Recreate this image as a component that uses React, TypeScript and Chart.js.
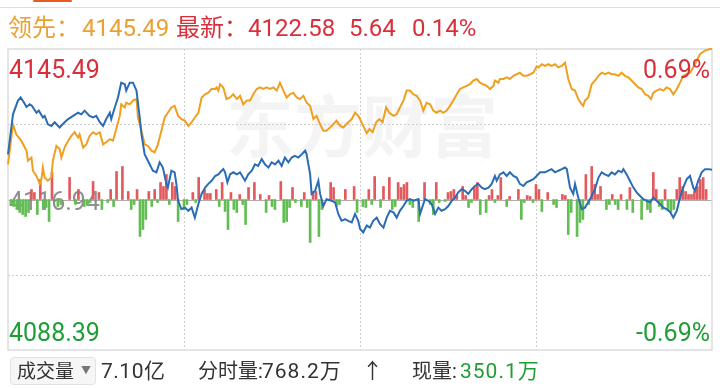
import React, { useEffect, useRef } from "react";
import { Chart, registerables } from "chart.js";

Chart.register(...registerables);

// ---- data ----
const prevClose = 4116.94;
const axisMax = 4145.49;
const axisMin = 4088.39;
const gridMinutes = [60, 120, 180];
const gridValues = [4131.215, 4102.665];

const orangeMinutes = [
  0, 1.7, 2.8, 4.5, 6.3, 6.8, 8.0, 8.5, 9.7, 10.8, 11.4, 11.9, 12.5, 13.6, 14.8, 15.3, 16.5, 17.6, 18.2, 19.3,
  20.5, 21.6, 22.7, 23.9, 24.4, 25.6, 26.7, 27.8, 29.0, 30.1, 31.3, 32.4, 33.5, 34.7, 35.8, 36.9, 38.1, 38.6, 39.8, 40.3,
  41.5, 42.6, 43.8, 44.3, 45.5, 46.6, 47.7, 48.9, 50.0, 51.1, 52.3, 53.4, 54.5, 55.7, 56.8, 58.0, 59.1, 60.3, 61.5, 62.6,
  63.7, 64.9, 66.0, 67.2, 68.3, 69.4, 70.6, 71.1, 71.7, 72.3, 73.4, 74.5, 75.7, 76.8, 78.0, 79.1, 80.2, 81.4, 82.5, 83.6,
  84.8, 85.9, 87.0, 88.2, 89.3, 90.5, 91.6, 92.7, 93.9, 95.0, 96.1, 97.3, 98.4, 99.5, 100.7, 101.8, 103.0, 104.1, 105.2, 106.4,
  107.5, 108.6, 109.8, 110.9, 112.0, 113.2, 114.3, 116.0, 117.2, 118.3, 119.4, 120.0, 121.1, 122.3, 123.2, 124.3, 125.5, 126.6, 127.7, 128.9,
  130.0, 131.4, 132.5, 133.6, 134.8, 135.9, 137.0, 138.2, 139.3, 140.5, 141.6, 142.7, 143.9, 145.0, 146.1, 147.3, 148.4, 149.5, 150.7, 151.8,
  153.0, 154.1, 155.2, 156.4, 157.5, 158.6, 159.8, 160.9, 162.0, 163.2, 164.3, 165.5, 166.0, 167.2, 167.7, 168.9, 170.0, 171.1, 172.3, 173.4,
  174.5, 175.7, 176.8, 178.0, 179.1, 180.2, 180.8, 182.0, 183.1, 184.2, 185.3, 186.5, 187.6, 188.8, 189.9, 191.0, 192.2, 193.3, 194.4, 195.6,
  196.1, 196.7, 197.8, 199.0, 200.1, 201.3, 202.4, 203.5, 204.7, 205.8, 206.9, 208.1, 209.2, 210.3, 211.5, 212.6, 213.8, 214.9, 216.0, 217.2,
  218.3, 219.2, 220.0, 221.1, 222.3, 223.4, 224.5, 225.7, 226.8, 228.0, 229.1, 230.2, 231.4, 232.5, 233.6, 234.8, 235.9, 237.6, 239.3, 240,
];
const orangeValues = [
  4123.6, 4131.2, 4129.3, 4128.1, 4126.2, 4124.3, 4124.9, 4122.4, 4121.4, 4119.9, 4120.8, 4123.0, 4121.1, 4120.5, 4121.1, 4124.3, 4127.1, 4126.5, 4124.9, 4126.8,
  4128.1, 4129.0, 4129.7, 4128.7, 4129.3, 4126.8, 4127.4, 4129.0, 4129.7, 4129.3, 4129.7, 4127.4, 4127.8, 4128.4, 4128.1, 4130.3, 4132.8, 4135.0, 4134.4, 4135.3,
  4135.0, 4135.7, 4136.0, 4132.5, 4130.0, 4127.4, 4127.1, 4126.2, 4125.9, 4127.4, 4130.0, 4132.5, 4133.4, 4134.4, 4134.7, 4132.8, 4132.2, 4131.9, 4130.9, 4131.6,
  4132.5, 4133.4, 4136.3, 4136.9, 4137.2, 4137.9, 4137.9, 4138.2, 4137.6, 4138.8, 4138.2, 4136.0, 4136.3, 4136.9, 4136.0, 4136.6, 4135.0, 4135.7, 4135.7, 4136.9,
  4137.9, 4138.2, 4137.9, 4138.2, 4137.9, 4138.2, 4137.6, 4139.1, 4137.6, 4136.3, 4136.9, 4137.2, 4136.3, 4136.0, 4136.6, 4135.3, 4134.7, 4132.2, 4132.8, 4131.2,
  4130.0, 4130.0, 4130.6, 4131.2, 4131.9, 4130.9, 4130.6, 4131.6, 4132.2, 4133.4, 4132.8, 4132.2, 4130.9, 4129.5, 4130.3, 4129.7, 4131.6, 4132.2, 4131.6, 4134.4,
  4133.4, 4132.8, 4133.1, 4134.4, 4135.7, 4137.6, 4137.6, 4136.9, 4136.6, 4135.7, 4133.8, 4135.3, 4135.0, 4133.8, 4133.4, 4133.8, 4133.4, 4133.8, 4134.7, 4135.7,
  4136.9, 4137.9, 4138.2, 4138.5, 4138.8, 4139.5, 4139.8, 4139.1, 4138.8, 4138.5, 4137.9, 4138.5, 4139.5, 4139.1, 4139.8, 4139.8, 4140.1, 4139.8, 4140.4, 4140.7,
  4141.0, 4140.4, 4140.4, 4140.7, 4141.0, 4142.2, 4142.0, 4142.6, 4142.3, 4142.6, 4142.3, 4142.6, 4142.0, 4142.3, 4142.9, 4139.8, 4137.9, 4137.6, 4136.0, 4135.0,
  4134.7, 4135.7, 4136.3, 4138.8, 4139.5, 4140.4, 4141.0, 4140.7, 4141.0, 4140.7, 4140.7, 4140.4, 4141.0, 4140.4, 4140.1, 4139.5, 4138.8, 4138.2, 4137.9, 4136.9,
  4136.6, 4136.0, 4137.2, 4137.6, 4137.9, 4137.6, 4138.2, 4137.9, 4136.9, 4137.9, 4139.1, 4140.4, 4140.7, 4141.0, 4142.0, 4143.3, 4144.5, 4145.2, 4145.5, 4145.49,
];

const blueMinutes = [
  0, 1.7, 3.4, 4.3, 5.5, 6.3, 7.4, 8.2, 9.7, 10.5, 11.9, 12.5, 13.6, 14.8, 15.9, 17.6, 19.3, 20.5, 22.2, 23.9,
  25.0, 26.1, 27.8, 29.0, 30.1, 31.3, 32.4, 33.5, 34.7, 35.2, 36.4, 37.5, 38.6, 39.8, 40.3, 41.5, 42.6, 43.8, 44.9, 45.5,
  46.6, 47.7, 49.4, 50.6, 51.7, 52.8, 54.0, 54.5, 55.7, 56.8, 57.4, 58.0, 59.1, 60.3, 61.5, 62.6, 63.7, 64.9, 66.0, 67.2,
  68.3, 69.4, 70.6, 71.7, 72.8, 73.4, 74.0, 74.8, 75.7, 76.8, 78.0, 79.1, 80.8, 81.9, 83.1, 84.2, 85.3, 86.5, 87.6, 88.8,
  89.9, 91.0, 92.2, 93.3, 94.4, 95.6, 96.7, 97.8, 99.0, 100.1, 101.3, 101.8, 103.0, 103.5, 104.7, 105.8, 106.4, 107.5, 108.6, 110.3,
  111.5, 112.6, 113.7, 114.9, 116.0, 117.2, 118.3, 119.4, 120.0, 121.1, 122.3, 123.4, 124.5, 125.7, 126.8, 128.0, 129.1, 130.2, 131.4, 132.5,
  133.6, 134.8, 135.9, 137.0, 138.2, 139.9, 140.5, 141.6, 142.2, 143.3, 144.4, 145.6, 146.7, 147.8, 149.0, 150.1, 151.3, 152.4, 153.5, 154.7,
  155.8, 156.9, 158.1, 159.2, 160.3, 161.5, 162.6, 163.8, 164.9, 166.0, 166.6, 167.7, 168.9, 170.0, 171.1, 172.3, 173.4, 174.5, 175.7, 176.8,
  178.0, 179.1, 180.2, 181.4, 183.1, 184.2, 185.3, 186.5, 187.6, 188.8, 189.9, 190.5, 191.6, 192.7, 193.3, 194.4, 195.6, 196.7, 197.8, 199.0,
  200.1, 201.3, 202.4, 203.5, 204.7, 205.8, 206.9, 208.1, 209.2, 209.8, 210.9, 212.0, 213.2, 214.3, 215.5, 216.6, 217.7, 218.9, 220.0, 221.1,
  222.3, 223.4, 224.5, 225.7, 226.8, 228.0, 229.1, 230.2, 231.4, 232.5, 233.6, 234.2, 235.3, 236.5, 237.6, 238.8, 240,
];
const blueValues = [
  4125.5, 4133.1, 4135.7, 4136.3, 4135.3, 4134.5, 4135.0, 4134.7, 4133.4, 4133.8, 4132.5, 4132.8, 4131.2, 4130.9, 4131.6, 4130.6, 4131.6, 4132.2, 4132.8, 4133.4,
  4133.1, 4133.8, 4132.8, 4132.5, 4132.8, 4131.6, 4130.9, 4132.2, 4133.4, 4132.2, 4134.4, 4136.3, 4139.1, 4138.8, 4137.6, 4139.1, 4139.1, 4137.6, 4132.5, 4129.3,
  4125.5, 4124.3, 4122.4, 4122.1, 4124.0, 4123.0, 4119.9, 4119.2, 4122.4, 4122.1, 4119.9, 4116.7, 4115.1, 4115.4, 4114.8, 4115.4, 4113.5, 4116.1, 4118.0, 4119.2,
  4119.9, 4120.5, 4121.4, 4121.7, 4122.4, 4122.7, 4122.1, 4120.2, 4121.7, 4122.1, 4121.7, 4122.1, 4120.5, 4121.7, 4122.4, 4123.6, 4123.3, 4124.6, 4123.6, 4123.0,
  4124.0, 4123.6, 4124.3, 4123.3, 4124.9, 4124.0, 4124.9, 4125.2, 4124.9, 4125.5, 4126.2, 4125.5, 4121.7, 4118.0, 4118.6, 4120.5, 4118.0, 4115.7, 4117.0, 4116.7,
  4116.4, 4114.2, 4112.9, 4113.2, 4112.9, 4112.6, 4114.2, 4112.9, 4111.4, 4110.7, 4112.0, 4111.6, 4112.9, 4113.5, 4112.3, 4111.6, 4113.5, 4114.8, 4114.5, 4113.5,
  4114.8, 4115.7, 4116.7, 4117.0, 4116.7, 4117.0, 4114.2, 4116.1, 4117.0, 4116.7, 4116.1, 4114.2, 4115.4, 4114.8, 4115.1, 4115.7, 4116.7, 4117.3, 4118.3, 4118.9,
  4118.6, 4118.0, 4118.9, 4119.5, 4119.9, 4119.2, 4118.9, 4119.2, 4119.9, 4121.4, 4120.5, 4121.7, 4122.1, 4121.4, 4122.1, 4121.4, 4121.1, 4119.9, 4119.5, 4120.2,
  4120.5, 4120.8, 4121.4, 4122.1, 4122.1, 4122.4, 4122.7, 4122.1, 4122.4, 4122.7, 4123.0, 4122.7, 4119.2, 4118.0, 4119.9, 4117.3, 4115.1, 4115.4, 4116.4, 4117.6,
  4118.9, 4121.1, 4122.1, 4121.7, 4121.4, 4122.1, 4121.7, 4122.4, 4122.1, 4122.7, 4121.7, 4120.5, 4119.2, 4118.3, 4117.6, 4117.0, 4116.7, 4116.4, 4117.3, 4116.7,
  4116.1, 4115.4, 4115.1, 4114.6, 4113.5, 4114.8, 4117.3, 4119.2, 4120.8, 4121.4, 4119.2, 4118.6, 4120.5, 4122.1, 4122.7, 4122.7, 4122.58,
];

const barMinutes = [
  1, 2, 3, 4, 5, 6, 7, 8, 9, 10, 11, 12, 13, 14, 15, 17, 18, 21, 23, 24, 26, 27, 28, 29, 31, 32, 34, 35, 36, 37,
  39, 41, 42, 43, 44, 45, 46, 47, 48, 49, 50, 51, 52, 53, 54, 55, 56, 57, 58, 60,
  61, 63, 64, 65, 67, 68, 69, 71, 72, 73, 74, 75, 76, 77, 78, 79, 80, 81, 82, 84, 86, 88, 89, 90, 91, 93, 94, 95, 96, 97,
  98, 100, 101, 102, 103, 104, 105, 106, 107, 110, 111, 112, 113, 115, 118, 119,
  121, 122, 123, 124, 125, 127, 128, 130, 131, 132, 133, 134, 135, 136, 137, 138, 140, 142, 144, 145, 146, 147, 149, 150,
  151, 152, 153, 155, 156, 157, 158, 159, 160, 161, 163, 164, 165, 166, 167, 168, 170, 171, 174, 175, 176, 177, 178, 179,
  180, 181, 182, 184, 186, 187, 189, 190, 191, 192, 194, 195, 196, 197, 198, 199, 200, 201, 202, 204, 205, 206, 207, 208, 209, 211,
  212, 213, 216, 218, 219, 220, 221, 222, 223, 224, 225, 226, 227, 228, 229, 230, 231, 232, 233, 234, 235, 236, 237, 238,
];
const barValues = [
  -5, -7, -10, -13, -15, -17, -13, 10, 7, -15, 20, -10, -8, -22, 27, -7, -5, 22, -5, 10, -7, -5, -3, 18, 7, -10, -3, 10, -7, 28,
  33, 8, -10, -5, 10, -37, -30, -20, 8, -7, 10, -3, 17, 13, 25, -5, 17, 13, -22, -10,
  -5, 7, -3, 22, 10, 6, 6, 10, -7, 17, -12, -30, 7, -10, -13, 5, -5, -25, 12, 17, 5, -13, 4, -7, -10, 18, -23, -22, -8, 12,
  -3, -7, 7, -8, -43, 8, 8, -37, -10, 17, 12, -7, -5, 10, 13, -13,
  -7, -8, 10, -5, 23, -8, 13, 22, -10, -7, 17, 12, 15, 17, -5, -8, -22, 17, -5, -15, 17, -3, -2, 7,
  8, 10, 4, 13, 4, -8, -3, 12, 17, -15, -13, 4, 10, -3, 4, 22, -7, 3, 10, -20, -3, 4, 3, -3,
  15, 10, -12, 7, -5, -8, 5, 4, -35, -13, -37, -23, -20, 25, -5, 33, 15, 5, 13, -10, -5, 5, -5, -10, 5, -10,
  12, -13, -20, -10, -13, 27, 10, -7, -10, 10, -10, -13, -10, 10, 22, 13, 8, 5, 5, 8, 13, 20, 22, 10,
];

const headerLead = { label: "领先：", value: "4145.49" };
const headerLast = { label: "最新：", value: "4122.58", change: "5.64", pct: "0.14%" };
const leftTop = "4145.49";
const leftMid = "4116.94";
const leftBottom = "4088.39";
const rightTop = "0.69%";
const rightBottom = "-0.69%";
const footerTotal = "7.10亿";
const footerMinuteLabel = "分时量:";
const footerMinuteValue = "768.2万";
const footerArrow = "↑";
const footerNowLabel = "现量:";
const footerNowValue = "350.1万";
const watermark = "东方财富";

const RED = "#d8303b";
const GREEN = "#1f9d36";
const ORANGE_TXT = "#eba032";
const ORANGE = "#f0a020";
const BLUE = "#2b6cb5";
const FONT = 'Roboto, "Noto Sans CJK SC", sans-serif';

const bgPlugin = {
  id: "bgPlugin",
  beforeDatasetsDraw(chart: any) {
    const { ctx, chartArea: a, scales } = chart;
    ctx.save();
    // watermark
    ctx.fillStyle = "rgba(0,0,0,0.045)";
    ctx.font = 'bold 68px "Noto Sans CJK SC"';
    ctx.textAlign = "center";
    ctx.textBaseline = "middle";
    ctx.fillText(watermark, (a.left + a.right) / 2 + 2, a.top + a.height * 0.25 + 2);
    // dotted grid
    ctx.strokeStyle = "#cfcfcf";
    ctx.lineWidth = 1;
    ctx.setLineDash([2, 2]);
    for (const m of gridMinutes) {
      const x = Math.round(scales.x.getPixelForValue(m)) + 0.5;
      ctx.beginPath();
      ctx.moveTo(x, a.top);
      ctx.lineTo(x, a.bottom);
      ctx.stroke();
    }
    for (const v of gridValues) {
      const y = Math.round(scales.y.getPixelForValue(v)) + 0.5;
      ctx.beginPath();
      ctx.moveTo(a.left, y);
      ctx.lineTo(a.right, y);
      ctx.stroke();
    }
    ctx.setLineDash([]);
    // baseline
    const y0 = Math.round(scales.yBar.getPixelForValue(0)) + 0.5;
    ctx.strokeStyle = "#b8a8a8";
    ctx.beginPath();
    ctx.moveTo(a.left, y0);
    ctx.lineTo(a.right, y0);
    ctx.stroke();
    // previous close label
    ctx.fillStyle = "rgba(125,125,125,0.85)";
    ctx.font = "25px Roboto";
    ctx.textAlign = "left";
    ctx.textBaseline = "middle";
    ctx.fillText(leftMid, a.left + 1, y0 + 3);
    // frame
    ctx.strokeStyle = "#dcdcdc";
    ctx.lineWidth = 1.5;
    ctx.strokeRect(a.left, a.top, a.right - a.left, a.bottom - a.top);
    ctx.restore();
  },
};

export default function App() {
  const ref = useRef<HTMLCanvasElement | null>(null);
  useEffect(() => {
    if (!ref.current) return;
    const chart = new Chart(ref.current, {
      type: "line",
      data: {
        datasets: [
          {
            type: "line",
            label: "领先",
            data: orangeMinutes.map((m, i) => ({ x: m, y: orangeValues[i] })),
            borderColor: ORANGE,
            borderWidth: 2,
            pointRadius: 0,
            tension: 0,
            yAxisID: "y",
            order: 2,
            clip: 4,
          } as any,
          {
            type: "line",
            label: "最新",
            data: blueMinutes.map((m, i) => ({ x: m, y: blueValues[i] })),
            borderColor: BLUE,
            borderWidth: 2,
            pointRadius: 0,
            tension: 0,
            yAxisID: "y",
            order: 1,
            clip: 4,
          } as any,
          {
            type: "bar",
            label: "涨跌",
            data: barMinutes.map((m, i) => ({ x: m, y: barValues[i] })),
            backgroundColor: barValues.map((v) => (v > 0 ? "#e05a5e" : "#62bd52")),
            barThickness: 2,
            yAxisID: "yBar",
            order: 3,
          } as any,
        ],
      },
      options: {
        animation: false,
        responsive: false,
        maintainAspectRatio: false,
        events: [],
        layout: { padding: { left: 8, right: 8, top: 49, bottom: 38 } },
        plugins: { legend: { display: false }, tooltip: { enabled: false } },
        scales: {
          x: { type: "linear", min: 0, max: 240, display: false, offset: false },
          y: { min: axisMin, max: axisMax, display: false },
          yBar: { min: -150.5, max: 150.5, display: false },
        },
      } as any,
      plugins: [bgPlugin],
    });
    return () => chart.destroy();
  }, []);

  const abs = (left: number, top: number, size: number, color: string, extra: any = {}) => ({
    position: "absolute" as const,
    left,
    top,
    fontSize: size,
    lineHeight: `${size}px`,
    color,
    fontFamily: FONT,
    whiteSpace: "nowrap" as const,
    ...extra,
  });

  return (
    <div style={{ position: "absolute", left: 0, top: 0, width: 720, height: 388, background: "#fff", overflow: "hidden" }}>
      <div style={{ position: "absolute", left: 33, top: 0, width: 39, height: 2, background: "#ea5a1e", borderRadius: 1 }} />
      <div style={{ position: "absolute", left: 0, top: 7, width: 720, height: 1, background: "#dedede" }} />
      <canvas ref={ref} width={720} height={388} style={{ position: "absolute", left: 0, top: 0, width: 720, height: 388 }} />
      <span style={abs(8, 16, 24, ORANGE_TXT)}>{headerLead.label}</span>
      <span style={abs(82, 16, 24, ORANGE_TXT)}>{headerLead.value}</span>
      <span style={abs(176, 16, 24, RED)}>{headerLast.label}</span>
      <span style={abs(248, 16, 24, RED)}>{headerLast.value}</span>
      <span style={abs(349, 16, 24, RED)}>{headerLast.change}</span>
      <span style={abs(412, 16, 24, RED)}>{headerLast.pct}</span>

      <span style={abs(9, 57, 25, RED)}>{leftTop}</span>
      <span style={abs(0, 57, 25, RED, { left: "auto", right: 10 })}>{rightTop}</span>
      <span style={abs(9, 320, 25, GREEN)}>{leftBottom}</span>
      <span style={abs(0, 320, 25, GREEN, { left: "auto", right: 10 })}>{rightBottom}</span>

      <div
        style={{
          position: "absolute",
          left: 10,
          top: 357,
          width: 86,
          height: 28,
          boxSizing: "border-box",
          border: "1px solid #e2e2e2",
          borderRadius: 4,
          background: "#f6f6f6",
        }}
      >
        <span style={abs(6, 4, 19, "#333")}>成交量</span>
        <span style={abs(70, 8, 10, "#777")}>▼</span>
      </div>
      <span style={abs(101, 361, 21, "#333", { letterSpacing: 0.5 })}>{footerTotal}</span>
      <span style={abs(198, 361, 20, "#333")}>{footerMinuteLabel}</span>
      <span style={abs(262, 361, 21, "#333", { letterSpacing: 1 })}>{footerMinuteValue}</span>
      <span style={abs(362, 361, 21, "#333")}>{footerArrow}</span>
      <span style={abs(412, 361, 20, "#333")}>{footerNowLabel}</span>
      <span style={abs(460, 361, 21, GREEN, { letterSpacing: 1 })}>{footerNowValue}</span>
    </div>
  );
}
